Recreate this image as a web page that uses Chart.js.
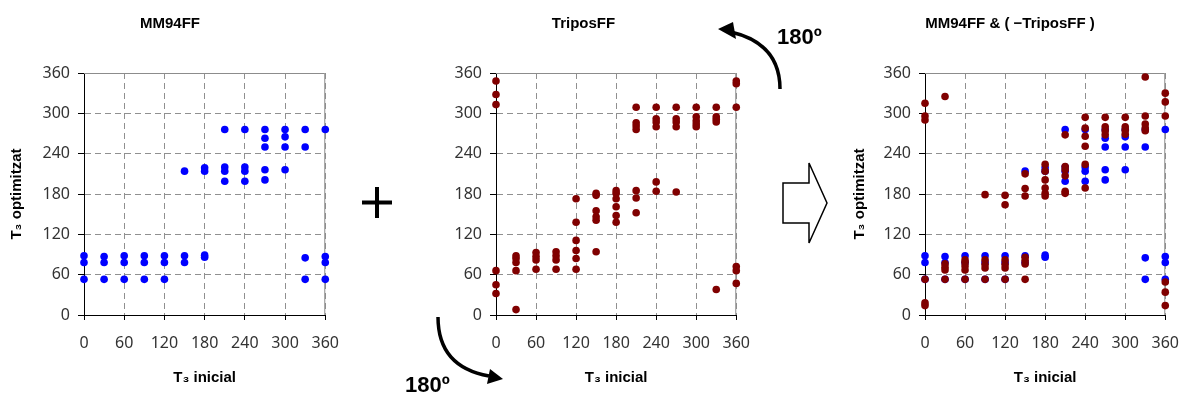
<!DOCTYPE html>
<html>
<head>
<meta charset="utf-8">
<script src="https://cdn.jsdelivr.net/npm/chart.js@4/dist/chart.umd.min.js"></script>
<style>
	body { margin: 0; background: #fff; width: 1181px; height: 394px; position: relative; overflow: hidden; }
	canvas { position: absolute; top: 0; }
	svg { position: absolute; left: 0; top: 0; pointer-events: none; }
</style>
</head>
<body>
<canvas id="c1" width="353" height="394" style="left:0px"></canvas>
<canvas id="c2" width="344" height="394" style="left:420px"></canvas>
<canvas id="c3" width="348" height="394" style="left:845px"></canvas>

<svg width="1181" height="394">
	<line x1="362" y1="202.5" x2="392" y2="202.5" stroke="#000" stroke-width="4" />
	<line x1="377" y1="187" x2="377" y2="218" stroke="#000" stroke-width="4" />
	<polygon points="783,183 809,183 809,163 827,203 809,243 809,223 783,223" fill="#fff" stroke="#000" stroke-width="1.5" />
	<path d="M 780 89 C 780 60, 765 40, 731 32" fill="none" stroke="#000" stroke-width="3.5" />
	<polygon points="718,29 733,22 736,39" fill="#000" />
	<path d="M 438 317 C 438 350, 455 370, 489 376" fill="none" stroke="#000" stroke-width="3.5" />
	<polygon points="503,379 490,369 487,384" fill="#000" />
	<text x="777" y="44" font-family="Liberation Sans" font-weight="bold" font-size="22">180º</text>
	<text x="405" y="392" font-family="Liberation Sans" font-weight="bold" font-size="22">180º</text>
</svg>

<script>
	// T3 inicial (x) – one column of results per starting angle
	const angles = [0, 30, 60, 90, 120, 150, 180, 210, 240, 270, 300, 330, 360];
	const tickValues = [0, 60, 120, 180, 240, 300, 360];

	// T3 optimitzat, MM94FF
	const mm94ff = [
		[88, 78, 53],
		[87, 78, 53],
		[88, 78, 53],
		[88, 78, 53],
		[88, 78, 53],
		[88, 78, 214],
		[89, 86, 219, 214],
		[276, 220, 214, 199],
		[276, 220, 214, 199],
		[276, 263, 250, 216, 201],
		[276, 265, 250, 216],
		[276, 250, 85, 53],
		[276, 87, 78, 53],
	];

	// T3 optimitzat, TriposFF
	const triposff = [
		[348, 328, 313, 66, 45, 32],
		[88, 84, 78, 66, 8],
		[93, 87, 82, 68],
		[94, 88, 82, 68],
		[173, 138, 111, 96, 84, 68],
		[181, 178, 155, 146, 141, 94],
		[185, 181, 173, 161, 148, 138],
		[309, 286, 281, 276, 185, 174, 152],
		[309, 292, 287, 280, 198, 184],
		[309, 292, 287, 280, 183],
		[309, 295, 289, 284, 280],
		[309, 295, 291, 287, 38],
		[348, 344, 309, 72, 66, 47],
	];

	// T3 optimitzat, -TriposFF (rotated 180º)
	const negTriposff = [
		[315, 296, 290, 53, 18, 14],
		[325, 76, 71, 67, 53],
		[82, 78, 73, 67, 53],
		[179, 82, 75, 70, 53],
		[178, 164, 82, 75, 70, 53],
		[210, 188, 177, 86, 81, 76, 53],
		[224, 214, 201, 189, 181, 177],
		[268, 221, 216, 207, 184, 181],
		[294, 278, 266, 251, 224, 189],
		[294, 280, 274, 268],
		[294, 280, 275, 269],
		[354, 296, 284, 278, 274],
		[330, 317, 296, 49, 34, 14],
	];

	const BLUE = "#0000ff";
	const MAROON = "#800000";

	function toPoints(columns) {
		const pts = [];
		columns.forEach((col, i) => col.forEach((v) => pts.push({ x: angles[i], y: v })));
		return pts;
	}

	function series(columns, color) {
		return {
			data: toPoints(columns),
			backgroundColor: color,
			borderWidth: 0,
			pointRadius: 3.8,
			pointHoverRadius: 3.8,
			clip: false,
		};
	}

	// solid grey line on top and right edge of the plot
	const frame = {
		id: "frame",
		beforeDatasetsDraw(chart) {
			const { ctx, chartArea } = chart;
			ctx.save();
			ctx.strokeStyle = "#8c8c8c";
			ctx.lineWidth = 1;
			ctx.beginPath();
			ctx.moveTo(chartArea.left, chartArea.top + 0.5);
			ctx.lineTo(chartArea.right - 0.5, chartArea.top + 0.5);
			ctx.lineTo(chartArea.right - 0.5, chartArea.bottom);
			ctx.stroke();
			ctx.restore();
		},
	};

	const tickFont = { family: "Noto Sans", size: 16 };
	const titleFont = { family: "Liberation Sans", size: 15, weight: "bold" };

	function makeChart(id, title, datasets, yTitle, yWidth, padLeft, padRight) {
		return new Chart(document.getElementById(id), {
			type: "scatter",
			data: { datasets: datasets },
			plugins: [frame],
			options: {
				responsive: false,
				animation: false,
				events: [],
				layout: { padding: { left: padLeft, right: padRight, top: 0, bottom: 0 } },
				plugins: {
					legend: { display: false },
					tooltip: { enabled: false },
					title: {
						display: true,
						text: title,
						color: "#000",
						font: titleFont,
						padding: { top: 15, bottom: 40 },
					},
				},
				scales: {
					x: {
						type: "linear",
						min: 0,
						max: 360,
						afterBuildTicks: (scale) => {
							scale.ticks = tickValues.map((v) => ({ value: v }));
						},
						afterFit: (scale) => {
							scale.height = 79;
						},
						ticks: { color: "#333", font: tickFont, padding: 14, maxRotation: 0 },
						grid: {
							color: "#909090",
							tickLength: 5,
							tickColor: "#000",
							tickBorderDash: [],
						},
						border: { color: "#000", width: 1, dash: [6, 4] },
						title: {
							display: true,
							text: "T₃ inicial",
							color: "#000",
							font: titleFont,
							padding: { top: 0, bottom: 7 },
						},
					},
					y: {
						type: "linear",
						min: 0,
						max: 360,
						afterBuildTicks: (scale) => {
							scale.ticks = tickValues.map((v) => ({ value: v }));
						},
						afterFit: (scale) => {
							scale.width = yWidth;
						},
						ticks: { color: "#333", font: tickFont, padding: 8 },
						grid: {
							color: "#909090",
							tickLength: 6,
							tickColor: "#000",
							tickBorderDash: [],
						},
						border: { color: "#000", width: 1, dash: [6, 4] },
						title: {
							display: yTitle,
							text: "T₃ optimitzat",
							color: "#000",
							font: titleFont,
							padding: { top: 0, bottom: 0 },
						},
					},
				},
			},
		});
	}

	makeChart("c1", "MM94FF", [series(mm94ff, BLUE)], true, 76, 8, 21);
	makeChart("c2", "TriposFF", [series(triposff, MAROON)], false, 66, 10, 27);
	makeChart("c3", "MM94FF & ( −TriposFF )", [series(negTriposff, MAROON), series(mm94ff, BLUE)], true, 74, 6, 24);
</script>
</body>
</html>
